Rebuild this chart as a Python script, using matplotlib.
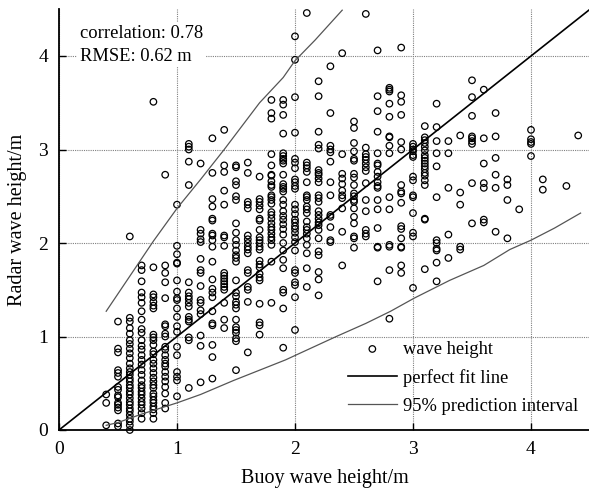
import matplotlib
matplotlib.use("Agg")
import matplotlib.pyplot as plt
import numpy as np

plt.rcParams['font.family'] = ['Liberation Serif', 'DejaVu Serif']

# ---- data: radar wave heights grouped by buoy wave height column ----
r04 = [0.38, 0.29, 0.05]
r05 = [1.16, 0.87, 0.83, 0.64, 0.61, 0.57, 0.46, 0.43, 0.37, 0.35, 0.29, 0.27, 0.24, 0.21, 0.07, 0.04]
r06 = [2.07, 1.20, 1.16, 1.09, 1.03, 0.96, 0.92, 0.87, 0.82, 0.77, 0.71, 0.66, 0.62, 0.59, 0.55, 0.52,
       0.48, 0.45, 0.41, 0.38, 0.34, 0.30, 0.27, 0.23, 0.20, 0.16, 0.12, 0.09, 0.05, 0.00]
r07 = [1.76, 1.71, 1.59, 1.47, 1.42, 1.36, 1.27, 1.18, 1.08, 1.04, 0.96, 0.90, 0.86, 0.80, 0.75, 0.70,
       0.64, 0.59, 0.53, 0.48, 0.45, 0.41, 0.38, 0.34, 0.30, 0.27, 0.23, 0.18, 0.12]
r08 = [3.51, 1.74, 1.45, 1.42, 1.37, 1.33, 1.30, 1.02, 0.99, 0.96, 0.91, 0.84, 0.81, 0.75, 0.71, 0.66,
       0.61, 0.56, 0.52, 0.48, 0.45, 0.39, 0.36, 0.32, 0.29, 0.25, 0.22, 0.18, 0.12]
r09 = [2.73, 1.76, 1.68, 1.58, 1.41, 1.13, 1.11, 1.03, 1.00, 0.89, 0.86, 0.80, 0.75, 0.71, 0.68, 0.62,
       0.57, 0.52, 0.46, 0.39, 0.29, 0.23]
r10 = [2.41, 1.97, 1.88, 1.79, 1.78, 1.60, 1.48, 1.41, 1.39, 1.30, 1.21, 1.11, 1.05, 0.89, 0.80, 0.62,
       0.57, 0.53, 0.36]
r11 = [3.06, 3.03, 3.00, 2.87, 2.62, 1.58, 1.47, 1.43, 1.40, 1.36, 1.32, 1.21, 1.18, 1.16, 0.99, 0.96, 0.45]
r12 = [2.85, 2.14, 2.10, 2.04, 2.01, 1.83, 1.71, 1.68, 1.54, 1.39, 1.36, 1.28, 1.24, 1.01, 0.90, 0.51]
r13 = [3.12, 2.75, 2.47, 2.39, 2.26, 2.24, 2.10, 2.08, 2.03, 1.96, 1.80, 1.61, 1.51, 1.47, 1.42, 1.27,
       1.14, 1.12, 0.91, 0.78, 0.55]
r14 = [3.21, 2.83, 2.76, 2.56, 2.41, 2.08, 2.06, 1.97, 1.68, 1.65, 1.62, 1.59, 1.56, 1.53, 1.50, 1.36,
       1.18, 1.09]
r15 = [2.83, 2.81, 2.66, 2.62, 2.50, 2.46, 2.21, 2.11, 2.03, 1.98, 1.92, 1.87, 1.84, 1.80, 1.60, 1.47,
       1.43, 1.37, 1.34, 1.30, 1.18, 1.10, 1.07, 1.04, 0.98, 0.95, 0.64]
r16 = [2.86, 2.75, 2.44, 2.41, 2.37, 2.08, 2.04, 2.00, 1.96, 1.93, 1.89, 1.71, 1.68, 1.53, 1.50, 1.37, 0.83]
r17 = [2.71, 2.47, 2.44, 2.40, 2.36, 2.26, 2.24, 2.14, 2.06, 2.03, 2.00, 1.96, 1.93, 1.81, 1.77, 1.74,
       1.67, 1.63, 1.60, 1.35, 1.15, 1.12, 1.02]
r18 = [3.53, 3.39, 3.33, 2.95, 2.83, 2.73, 2.72, 2.66, 2.62, 2.60, 2.51, 2.49, 2.46, 2.42, 2.33, 2.30,
       2.26, 2.21, 2.17, 2.14, 2.10, 2.06, 2.03, 1.98, 1.80, 1.36]
r19 = [3.53, 3.48, 3.37, 3.17, 2.96, 2.93, 2.90, 2.88, 2.85, 2.73, 2.63, 2.60, 2.58, 2.55, 2.46, 2.41,
       2.34, 2.29, 2.25, 2.20, 2.15, 2.09, 2.00, 1.92, 1.82, 1.73, 1.50, 1.47, 1.30, 0.88]
r20 = [4.21, 3.96, 3.56, 3.18, 2.90, 2.86, 2.80, 2.68, 2.65, 2.61, 2.58, 2.41, 2.36, 2.31, 2.25, 2.22,
       2.18, 2.15, 2.11, 2.06, 2.01, 1.92, 1.71, 1.68, 1.58, 1.55, 1.42, 1.07]
r21 = [4.46, 2.86, 2.83, 2.80, 2.76, 2.65, 2.51, 2.49, 2.46, 2.39, 2.36, 2.32, 2.23, 2.17, 2.14, 2.10,
       2.05, 1.98, 1.89, 1.73, 1.53]
r22 = [3.73, 3.57, 3.19, 3.05, 3.01, 2.78, 2.75, 2.73, 2.69, 2.65, 2.51, 2.48, 2.44, 2.34, 2.30, 2.26,
       2.22, 2.19, 2.14, 2.05, 1.91, 1.87, 1.69, 1.61, 1.44]
r23 = [3.89, 3.39, 3.04, 3.00, 2.97, 2.87, 2.65, 2.51, 2.30, 2.28, 2.17, 2.03, 2.01]
r24 = [4.03, 2.95, 2.74, 2.69, 2.63, 2.56, 2.51, 2.48, 2.37, 2.12, 1.76]
r25 = [3.30, 3.23, 3.07, 2.98, 2.90, 2.88, 2.74, 2.70, 2.62, 2.53, 2.50, 2.46, 2.44, 2.37, 2.28, 2.21,
       2.07, 2.05, 1.95]
r26 = [4.45, 3.02, 2.95, 2.92, 2.89, 2.85, 2.81, 2.77, 2.64, 2.46, 2.34, 2.14, 2.10, 2.07]
r27 = [4.06, 3.57, 3.41, 3.19, 2.96, 2.85, 2.83, 2.76, 2.71, 2.65, 2.61, 2.59, 2.46, 2.36, 2.16, 1.96,
       1.95, 1.59]
r28 = [3.66, 3.64, 3.62, 3.49, 3.35, 3.14, 3.13, 3.04, 2.96, 2.49, 2.36, 1.98, 1.96, 1.71, 1.19]
r29 = [4.09, 3.58, 3.51, 3.37, 3.08, 3.00, 2.62, 2.55, 2.53, 2.43, 2.18, 2.15, 2.05, 1.96, 1.95, 1.76, 1.68]
r30 = [3.06, 3.03, 3.00, 2.98, 2.94, 2.92, 2.71, 2.67, 2.51, 2.49, 2.32, 2.11, 2.07, 1.52]
r31 = [3.25, 3.13, 3.10, 3.07, 3.03, 2.99, 2.94, 2.91, 2.88, 2.85, 2.82, 2.79, 2.75, 2.72, 2.67, 2.62,
       2.26, 2.25, 1.72]
r32 = [3.49, 3.24, 3.09, 2.96, 2.82, 2.49, 2.03, 2.00, 1.94, 1.92, 1.79, 1.59]
r33 = [3.09, 2.96, 2.59, 2.09, 1.84]
r34 = [3.15, 2.54, 2.41, 1.96, 1.93]
r35 = [3.74, 3.56, 3.36, 3.14, 3.12, 3.09, 3.06, 2.64, 2.21]
r36 = [3.64, 3.12, 2.85, 2.64, 2.59, 2.25, 2.22]
r37 = [3.39, 3.14, 2.91, 2.73, 2.59, 2.12]
r38 = [2.68, 2.62, 2.46, 2.05]
r39 = [2.36]
r40 = [3.21, 3.11, 3.08, 3.06, 2.93]
r41 = [2.68, 2.57]
r43 = [2.61]
r44 = [3.15]

buoy_columns = [0.4, 0.5, 0.6, 0.7, 0.8, 0.9, 1.0, 1.1, 1.2, 1.3, 1.4, 1.5, 1.6, 1.7, 1.8, 1.9, 2.0,
                2.1, 2.2, 2.3, 2.4, 2.5, 2.6, 2.7, 2.8, 2.9, 3.0, 3.1, 3.2, 3.3, 3.4, 3.5, 3.6, 3.7,
                3.8, 3.9, 4.0, 4.1, 4.3, 4.4]
radar_columns = [r04, r05, r06, r07, r08, r09, r10, r11, r12, r13, r14, r15, r16, r17, r18, r19, r20,
                 r21, r22, r23, r24, r25, r26, r27, r28, r29, r30, r31, r32, r33, r34, r35, r36, r37,
                 r38, r39, r40, r41, r43, r44]

# 95% prediction interval curves
upper_x = [0.4, 0.8, 1.0, 1.2, 1.4, 1.55, 1.7, 1.9, 2.0, 2.17, 2.4]
upper_y = [1.27, 2.02, 2.37, 2.68, 3.00, 3.25, 3.50, 3.77, 3.95, 4.17, 4.49]
lower_x = [0.4, 0.5, 0.7, 0.9, 1.0, 1.2, 1.48, 1.7, 1.92, 2.04, 2.35, 2.6, 2.81, 3.01, 3.31, 3.6,
           3.82, 4.0, 4.2, 4.42]
lower_y = [0.05, 0.08, 0.17, 0.25, 0.29, 0.38, 0.53, 0.64, 0.75, 0.82, 1.00, 1.14, 1.27, 1.41, 1.60,
           1.76, 1.93, 2.03, 2.16, 2.32]

fit_x = [0, 4.5]
fit_y = [0, 4.5]

correlation = 0.78
rmse = 0.62

# ---- build ----
bx = np.concatenate([[c] * len(v) for c, v in zip(buoy_columns, radar_columns)])
ry = np.concatenate(radar_columns)

fig = plt.figure(figsize=(5.89, 4.91), dpi=100)
ax = fig.add_axes([59 / 589, 61 / 491, 531 / 589, 420.75 / 491])

ax.set_xlim(0, 4.5)
ax.set_ylim(0, 4.5)
ax.set_xticks([0, 1, 2, 3, 4])
ax.set_yticks([0, 1, 2, 3, 4])
ax.grid(True, color='#808080', linestyle=(0, (1, 1)), linewidth=0.8)
ax.set_axisbelow(True)

for s in ['top', 'right']:
    ax.spines[s].set_visible(False)
for s in ['left', 'bottom']:
    ax.spines[s].set_linewidth(1.3)

ax.tick_params(direction='in', length=5, width=1, labelsize=14, pad=8)

sc = ax.scatter(bx, ry, s=22, facecolors='none', edgecolors='black', linewidths=0.9,
                label='wave height', zorder=3, clip_on=False)
ln_fit, = ax.plot(fit_x, fit_y, color='black', linewidth=1.2, label='perfect fit line', zorder=4)
ln_up, = ax.plot(upper_x, upper_y, color='#555555', linewidth=0.9,
                 label='95% prediction interval', zorder=4)
ax.plot(lower_x, lower_y, color='#555555', linewidth=0.9, zorder=4)

ax.set_xlabel('Buoy wave height/m', fontsize=14.5, labelpad=8)
ax.set_ylabel('Radar wave height/m', fontsize=14.5, labelpad=8)

ax.text(0.04, 0.963, f'correlation: {correlation}\nRMSE: {rmse} m', transform=ax.transAxes,
        fontsize=13.3, va='top', ha='left', linespacing=1.45, zorder=6,
        bbox=dict(facecolor='white', edgecolor='none', pad=2))

leg = ax.legend(handles=[sc, ln_fit, ln_up], loc='upper left', bbox_to_anchor=(0.544, 0.212),
                frameon=False, fontsize=13.3, scatterpoints=1, handlelength=2.65,
                handletextpad=0.35, borderpad=0, borderaxespad=0, labelspacing=0.6)

fig.savefig('out.png', dpi=100)
